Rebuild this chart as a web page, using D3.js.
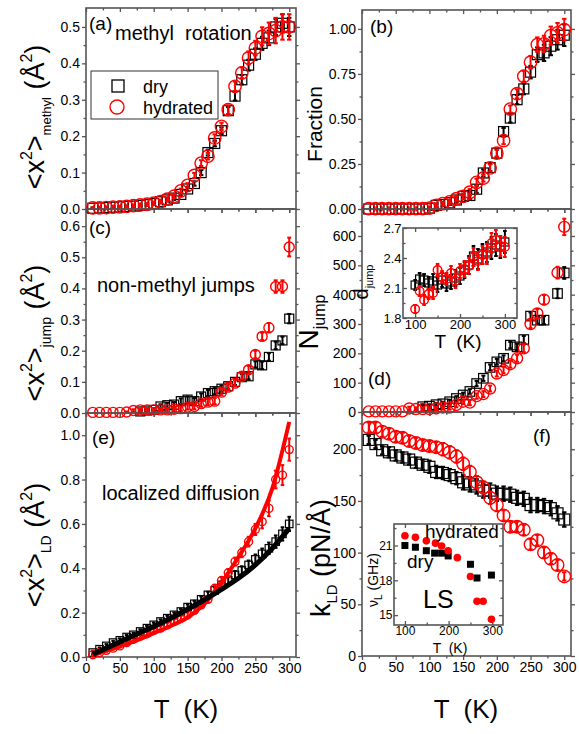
<!DOCTYPE html>
<html>
<head>
<meta charset="utf-8">
<script src="https://cdn.jsdelivr.net/npm/d3@7"></script>
<style>
  body { margin: 0; background: #fff; }
  text { font-family: "Liberation Sans", Arial, sans-serif; }
</style>
</head>
<body>
<svg id="chart"></svg>
<script>
// temperature grid (K)
var temps = [10,20,30,40,50,60,70,80,90,100,110,120,130,140,150,160,170,180,190,200,210,220,230,240,250,260,270,280,290,300];

// (a) methyl rotation
var methylDry    = [0.002,0.003,0.004,0.005,0.006,0.007,0.008,0.010,0.012,0.015,0.020,0.025,0.030,0.040,0.055,0.070,0.100,0.155,0.180,0.215,0.270,0.310,0.355,0.395,0.425,0.455,0.470,0.500,0.510,0.500];
var methylDryErr = [0.002,0.002,0.002,0.002,0.002,0.002,0.002,0.003,0.003,0.003,0.004,0.004,0.005,0.005,0.006,0.006,0.007,0.008,0.008,0.009,0.010,0.012,0.013,0.015,0.016,0.018,0.020,0.022,0.025,0.025];
var methylHyd    = [0.003,0.003,0.004,0.005,0.006,0.007,0.009,0.011,0.013,0.016,0.020,0.027,0.035,0.050,0.065,0.092,0.126,0.145,0.195,0.227,0.273,0.337,0.374,0.415,0.442,0.474,0.482,0.490,0.500,0.500];
var methylHydErr = [0.002,0.002,0.002,0.002,0.002,0.002,0.003,0.003,0.003,0.004,0.004,0.005,0.005,0.006,0.006,0.007,0.008,0.009,0.010,0.010,0.012,0.013,0.015,0.018,0.020,0.025,0.030,0.035,0.035,0.035];

// (b) fraction
var fracDry    = [0,0,0,0,0,0,0,0,0,0.005,0.020,0.025,0.035,0.050,0.070,0.075,0.110,0.200,0.230,0.310,0.430,0.505,0.607,0.667,0.760,0.857,0.867,0.904,0.940,0.965];
var fracDryErr = [0,0,0,0,0,0,0,0,0,0.005,0.010,0.010,0.012,0.015,0.015,0.018,0.020,0.020,0.020,0.020,0.020,0.025,0.025,0.030,0.035,0.040,0.045,0.050,0.055,0.060];
var fracHyd    = [0.002,0.002,0.002,0.002,0.002,0.002,0.002,0.002,0.002,0.005,0.020,0.030,0.040,0.057,0.070,0.093,0.148,0.172,0.228,0.310,0.380,0.555,0.640,0.737,0.815,0.913,0.917,0.963,0.978,0.996];
var fracHydErr = [0,0,0,0,0,0,0,0,0,0.005,0.010,0.010,0.012,0.015,0.015,0.018,0.020,0.020,0.020,0.020,0.020,0.020,0.025,0.030,0.035,0.040,0.045,0.050,0.055,0.060];

// (c) non-methyl jumps
var jumpDry    = [null,null,null,null,null,null,null,0.005,0.008,0.010,0.021,0.025,0.027,0.038,0.043,0.038,0.053,0.064,0.070,0.078,0.086,0.100,0.115,0.118,0.156,0.153,0.180,0.217,0.233,0.303];
var jumpDryErr = [0,0,0,0,0,0,0,0.004,0.005,0.006,0.007,0.008,0.008,0.009,0.010,0.010,0.010,0.010,0.010,0.010,0.010,0.010,0.010,0.010,0.010,0.012,0.012,0.012,0.012,0.015];
var jumpHyd    = [0.002,0.002,0.002,0.002,0.002,0.003,0.008,0.010,0.010,0.010,0.010,0.010,0.012,0.014,0.019,0.021,0.030,0.035,0.038,0.067,0.083,0.096,0.118,0.139,0.188,0.246,0.274,0.406,0.406,0.533];
var jumpHydErr = [0,0,0,0,0,0.002,0.004,0.005,0.006,0.006,0.006,0.007,0.007,0.008,0.008,0.009,0.010,0.010,0.010,0.010,0.010,0.010,0.010,0.012,0.012,0.012,0.015,0.020,0.020,0.030];

// (d) number of jumps
var njumpDry    = [null,null,null,null,null,null,null,null,18,20,25,28,35,46,58,70,97,115,152,171,183,228,222,247,327,313,313,null,404,474];
var njumpDryErr = [0,0,0,0,0,0,0,0,6,6,6,7,7,8,8,8,9,9,10,10,10,11,11,12,12,12,14,0,16,20];
var njumpHyd    = [2,2,2,2,2,2,12,10,10,10,12,15,15,24,35,32,54,61,80,131,143,163,183,217,300,336,383,null,475,631];
var njumpHydErr = [0,0,0,0,0,0,6,6,6,6,6,7,7,8,8,9,9,10,10,10,11,12,12,13,14,15,16,0,20,28];

// (d inset) jump distance
var djT      = [100,110,120,130,140,150,160,170,180,190,200,210,220,230,240,250,260,270,280,290,300];
var djDry    = [2.13,2.19,2.18,2.15,2.17,2.13,2.18,2.14,2.16,2.20,2.22,2.28,2.33,2.42,2.39,2.44,2.46,2.50,2.53,2.51,2.56];
var djDryErr = [0.05,0.06,0.06,0.06,0.07,0.07,0.07,0.07,0.07,0.08,0.08,0.08,0.09,0.10,0.10,0.10,0.10,0.11,0.11,0.11,0.11];
var djHyd    = [1.89,2.07,1.98,2.04,2.05,2.28,2.21,2.19,2.25,2.17,2.27,2.29,2.32,2.41,2.37,2.43,2.44,2.55,2.58,2.52,2.51];
var djHydErr = [0.04,0.05,0.05,0.05,0.06,0.06,0.06,0.06,0.07,0.07,0.07,0.08,0.08,0.09,0.09,0.09,0.10,0.10,0.10,0.10,0.10];

// (e) localized diffusion
var ldDry    = [0.020,0.035,0.050,0.065,0.075,0.090,0.100,0.115,0.130,0.145,0.160,0.175,0.190,0.205,0.225,0.240,0.260,0.280,0.300,0.325,0.345,0.370,0.390,0.415,0.440,0.465,0.490,0.520,0.555,0.600];
var ldDryErr = [0.008,0.008,0.008,0.008,0.009,0.009,0.009,0.010,0.010,0.010,0.010,0.011,0.011,0.012,0.012,0.013,0.013,0.014,0.015,0.016,0.017,0.018,0.019,0.020,0.022,0.024,0.026,0.028,0.030,0.032];
var ldHyd    = [0.010,0.020,0.030,0.040,0.050,0.065,0.080,0.095,0.105,0.120,0.130,0.145,0.160,0.175,0.190,0.210,0.235,0.260,0.310,0.345,0.380,0.430,0.470,0.520,0.575,0.610,0.670,0.800,0.820,0.935];
var ldHydErr = [0.006,0.006,0.006,0.006,0.007,0.007,0.007,0.008,0.008,0.008,0.009,0.009,0.010,0.010,0.011,0.011,0.012,0.013,0.014,0.015,0.016,0.018,0.020,0.022,0.025,0.030,0.035,0.040,0.045,0.050];
var ldFitT   = [10,30,50,75,100,125,150,175,200,225,250,275,300];
var ldFitDry = [0.012,0.040,0.068,0.103,0.138,0.175,0.215,0.258,0.305,0.355,0.415,0.490,0.580];
var ldFitHyd = [0.010,0.028,0.048,0.075,0.108,0.140,0.178,0.240,0.335,0.450,0.580,0.760,1.060];

// (f) effective force constant
var kDry    = [209,205,199,197,194,192,190,187,185,183,178,177,175,172,168,166,164,160,160,157,157,156,153,152,146,146,145,143,138,132];
var kDryErr = [4,4,4,5,5,5,5,5,5,6,6,6,6,6,7,7,7,7,7,7,7,7,7,7,7,7,7,7,7,7];
var kHyd    = [221,221,217,215,212,211,208,206,204,203,202,200,197,193,186,178,168,163,153,146,136,125,125,122,108,112,100,94,88,77];
var kHydErr = [5,5,5,5,5,5,5,5,5,5,5,6,6,6,6,6,6,6,6,6,5,5,5,5,5,5,5,5,5,4];

// (f inset) light scattering
var lsHydT = [100,124,149,170,184,199,220,250,265,279,298];
var lsHyd  = [21.84,21.7,21.4,21.2,20.95,20.55,19.95,18.33,16.2,16.2,14.64];
var lsDryT = [100,124,149,168,184,199,250,265,298];
var lsDry  = [21.0,20.85,20.55,20.34,20.34,20.1,19.38,18.2,18.45];

var W = 579, H = 734;
var RED = "#ff0000", AX = "#555";

var svg = d3.select("#chart").attr("width", W).attr("height", H);
svg.append("rect").attr("width", W).attr("height", H).attr("fill", "#fff");

function pts(T, V, E) {
    return T.map(function(t, i) { return {t: t, v: V[i], e: E ? E[i] : 0}; })
        .filter(function(d) { return d.v != null; });
}

// frame + ticks for one panel, returns scales
function frame(p) {
    var x = d3.scaleLinear().domain(p.xd).range([p.l, p.r]);
    var y = d3.scaleLinear().domain(p.yd).range([p.b, p.t]);
    var g = svg.append("g");
    if (p.white) {
        g.append("rect").attr("x", p.l).attr("y", p.t)
            .attr("width", p.r - p.l).attr("height", p.b - p.t).attr("fill", "#fff");
    }
    var fs = p.fs || 14;
    var s = p.inward ? -1 : 1;   // insets have their ticks inside
    var ticks = [
        [d3.axisLeft(y).tickValues(p.yt).tickFormat(p.yf).tickSize(4 * s), "translate(" + p.l + ",0)"],
        [d3.axisLeft(y).tickValues(p.ym).tickFormat("").tickSize(2.5 * s), "translate(" + p.l + ",0)"],
        [d3.axisRight(y).tickValues(p.yt).tickFormat("").tickSize(4 * s), "translate(" + p.r + ",0)"],
        [d3.axisRight(y).tickValues(p.ym).tickFormat("").tickSize(2.5 * s), "translate(" + p.r + ",0)"],
        [d3.axisBottom(x).tickValues(p.xt).tickFormat(p.xlab ? d3.format("d") : "").tickSize(4 * s), "translate(0," + p.b + ")"],
        [d3.axisBottom(x).tickValues(p.xm).tickFormat("").tickSize(2.5 * s), "translate(0," + p.b + ")"],
        [d3.axisTop(x).tickValues(p.xt).tickFormat("").tickSize(-4), "translate(0," + p.t + ")"],
        [d3.axisTop(x).tickValues(p.xm).tickFormat("").tickSize(-2.5), "translate(0," + p.t + ")"]
    ];
    ticks.forEach(function(a) {
        var ag = g.append("g").attr("transform", a[1]).call(a[0].tickPadding(p.inward ? 1.5 : 2));
        ag.select(".domain").remove();
        ag.selectAll("line").attr("stroke", AX).attr("stroke-width", 1.3);
        ag.selectAll("text").attr("fill", "#000").style("font-size", fs + "px")
            .style("font-family", '"Liberation Sans", Arial, sans-serif');
    });
    g.append("rect").attr("x", p.l).attr("y", p.t)
        .attr("width", p.r - p.l).attr("height", p.b - p.t)
        .attr("fill", "none").attr("stroke", AX).attr("stroke-width", 1.6);
    return {x: x, y: y, g: svg.append("g")};
}

function errbars(s, data, color, cap, sw) {
    var eg = s.g.append("g").attr("stroke", color).attr("stroke-width", sw || 2);
    data.filter(function(d) { return d.e > 0; }).forEach(function(d) {
        var cx = s.x(d.t);
        eg.append("line").attr("x1", cx).attr("x2", cx)
            .attr("y1", s.y(d.v - d.e)).attr("y2", s.y(d.v + d.e));
        [d.v - d.e, d.v + d.e].forEach(function(v) {
            eg.append("line").attr("x1", cx - cap).attr("x2", cx + cap)
                .attr("y1", s.y(v)).attr("y2", s.y(v));
        });
    });
}

function squares(s, data, size, filled) {
    s.g.append("g").selectAll("rect").data(data).enter().append("rect")
        .attr("x", function(d) { return s.x(d.t) - size / 2; })
        .attr("y", function(d) { return s.y(d.v) - size / 2; })
        .attr("width", size).attr("height", size)
        .attr("fill", filled ? "#000" : "none")
        .attr("stroke", "#000").attr("stroke-width", filled ? 0 : 1.2);
}

function circles(s, data, r, filled) {
    s.g.append("g").selectAll("circle").data(data).enter().append("circle")
        .attr("cx", function(d) { return s.x(d.t); })
        .attr("cy", function(d) { return s.y(d.v); })
        .attr("r", r)
        .attr("fill", filled ? RED : "none")
        .attr("stroke", RED).attr("stroke-width", filled ? 0 : 1.4);
}

function series(s, T, dry, dryE, hyd, hydE, sq, r, cap) {
    var d1 = pts(T, dry, dryE), d2 = pts(T, hyd, hydE);
    squares(s, d1, sq);
    errbars(s, d1, "#000", cap);
    circles(s, d2, r);
    errbars(s, d2, RED, cap);
}

function label(txt, x, y, size, anchor) {
    svg.append("text").attr("x", x).attr("y", y).attr("text-anchor", anchor || "start")
        .style("font-size", size + "px").style("white-space", "pre").text(txt);
}

// rotated y label built from [text, size, dy] parts
function ylabel(parts, x, y) {
    var t = svg.append("text").attr("transform", "translate(" + x + "," + y + ") rotate(-90)")
        .attr("text-anchor", "middle").style("white-space", "pre");
    parts.forEach(function(p) {
        t.append("tspan").text(p[0]).style("font-size", p[1] + "px").attr("dy", p[2]);
    });
}

var xd = [0, 310];
var xt = [0, 50, 100, 150, 200, 250, 300];
var xm = [25, 75, 125, 175, 225, 275];
var f1 = d3.format(".1f"), f2 = d3.format(".2f"), fd = d3.format("d");

// ---- (a)
var sa = frame({l: 86, r: 296, t: 8, b: 209, xd: xd, yd: [0, 0.552], xt: xt, xm: xm,
    yt: [0, 0.1, 0.2, 0.3, 0.4, 0.5], ym: [0.05, 0.15, 0.25, 0.35, 0.45], yf: f1});
series(sa, temps, methylDry, methylDryErr, methylHyd, methylHydErr, 10, 6.2, 2.2);

// ---- (b)
var sb = frame({l: 362, r: 571, t: 10, b: 209, xd: xd, yd: [0, 1.105], xt: xt, xm: xm,
    yt: [0, 0.25, 0.5, 0.75, 1.0], ym: [0.125, 0.375, 0.625, 0.875], yf: f2});
series(sb, temps, fracDry, fracDryErr, fracHyd, fracHydErr, 10, 6.2, 2.2);

// ---- (c)
var sc = frame({l: 86, r: 296, t: 209, b: 413, xd: xd, yd: [0, 0.655], xt: xt, xm: xm,
    yt: [0, 0.1, 0.2, 0.3, 0.4, 0.5, 0.6], ym: [0.05, 0.15, 0.25, 0.35, 0.45, 0.55], yf: f1});
series(sc, temps, jumpDry, jumpDryErr, jumpHyd, jumpHydErr, 9, 5, 2);

// ---- (d)
var sd = frame({l: 362, r: 571, t: 209, b: 412, xd: xd, yd: [0, 692], xt: xt, xm: xm,
    yt: [0, 100, 200, 300, 400, 500, 600], ym: [50, 150, 250, 350, 450, 550, 650], yf: fd});
series(sd, temps, njumpDry, njumpDryErr, njumpHyd, njumpHydErr, 9.5, 5.5, 2);

// ---- (d) inset
var sdi = frame({l: 403, r: 517, t: 228, b: 318, xd: [73, 327], yd: [1.8, 2.7],
    xt: [100, 200, 300], xm: [150, 250], yt: [1.8, 2.1, 2.4, 2.7], ym: [1.95, 2.25, 2.55],
    yf: f1, xlab: true, fs: 13, white: true, inward: true});
series(sdi, djT, djDry, djDryErr, djHyd, djHydErr, 8, 4.3, 1.8);

// ---- (e)
var se = frame({l: 86, r: 296, t: 413, b: 657, xd: xd, yd: [0, 1.1], xt: xt, xm: xm,
    yt: [0, 0.2, 0.4, 0.6, 0.8, 1.0], ym: [0.1, 0.3, 0.5, 0.7, 0.9], yf: f1, xlab: true});
series(se, temps, ldDry, ldDryErr, ldHyd, ldHydErr, 7.5, 4, 1.8);
var fitLine = d3.line().curve(d3.curveMonotoneX)
    .x(function(d) { return se.x(d.t); }).y(function(d) { return se.y(d.v); });
se.g.append("path").attr("d", fitLine(pts(ldFitT, ldFitHyd)))
    .attr("fill", "none").attr("stroke", RED).attr("stroke-width", 4);
se.g.append("path").attr("d", fitLine(pts(ldFitT, ldFitDry)))
    .attr("fill", "none").attr("stroke", "#000").attr("stroke-width", 5);

// ---- (f)
var sf = frame({l: 362, r: 571, t: 412, b: 656, xd: xd, yd: [0, 236], xt: xt, xm: xm,
    yt: [0, 50, 100, 150, 200], ym: [25, 75, 125, 175, 225], yf: fd, xlab: true});
series(sf, temps, kDry, kDryErr, kHyd, kHydErr, 11, 6.3, 2.2);

// ---- (f) inset
var sfi = frame({l: 394, r: 503, t: 524, b: 625, xd: [75, 324.5], yd: [14.15, 22.85],
    xt: [100, 200, 300], xm: [150, 250], yt: [15, 18, 21], ym: [16.5, 19.5, 22.5],
    yf: fd, xlab: true, fs: 12, white: true, inward: true});
squares(sfi, pts(lsDryT, lsDry), 7, true);
circles(sfi, pts(lsHydT, lsHyd), 3.8, true);

// ---- texts
label("(a)", 89, 30, 19);
label("methyl  rotation", 115, 40, 20);
label("(b)", 370, 33, 19);
label("(c)", 89, 234, 19);
label("non-methyl jumps", 97, 292, 20);
label("(d)", 368, 385, 19);
label("(e)", 92, 444, 19);
label("localized diffusion", 102, 500, 20);
label("(f)", 533, 442, 19);

// legend in (a)
svg.append("rect").attr("x", 91).attr("y", 71).attr("width", 127).attr("height", 48)
    .attr("fill", "#fff").attr("stroke", "#333").attr("stroke-width", 1);
svg.append("rect").attr("x", 112).attr("y", 80).attr("width", 12).attr("height", 12)
    .attr("fill", "none").attr("stroke", "#000").attr("stroke-width", 1.3);
svg.append("circle").attr("cx", 117).attr("cy", 107).attr("r", 7)
    .attr("fill", "none").attr("stroke", RED).attr("stroke-width", 1.4);
label("dry", 143, 93, 18);
label("hydrated", 143, 114, 18);

// inset texts
label("T  (K)", 458, 348, 19, "middle");
label("hydrated", 425, 538, 19);
label("dry", 407, 568, 19);
label("LS", 423, 608, 25);
label("T  (K)", 450, 653, 14, "middle");

// axis titles
label("T  (K)", 186, 718, 26, "middle");
label("T  (K)", 466, 718, 26, "middle");

ylabel([["<x", 27, 0], ["2", 16, -12], [">", 27, 12], ["methyl", 13, 7], [" (Å", 27, -7], ["2", 16, -12], [")", 27, 12]], 44, 117);
ylabel([["<x", 27, 0], ["2", 16, -12], [">", 27, 12], ["jump", 14, 7], [" (Å", 27, -7], ["2", 16, -12], [")", 27, 12]], 44, 333);
ylabel([["<x", 27, 0], ["2", 16, -12], [">", 27, 12], ["LD", 14, 7], [" (Å", 27, -7], ["2", 16, -12], [")", 27, 12]], 44, 545);
ylabel([["Fraction", 21, 0]], 322, 124);
ylabel([["N", 28, 0], ["jump", 16, 7]], 318, 322);
ylabel([["k", 27, 0], ["LD", 15, 7], [" (pN/Å)", 27, -7]], 330, 558);
ylabel([["d", 20, 0], ["jump", 11, 5]], 368, 282);
ylabel([["ν", 14, 0], ["L", 10, 4], [" (GHz)", 14, -4]], 378, 580);
</script>
</body>
</html>
